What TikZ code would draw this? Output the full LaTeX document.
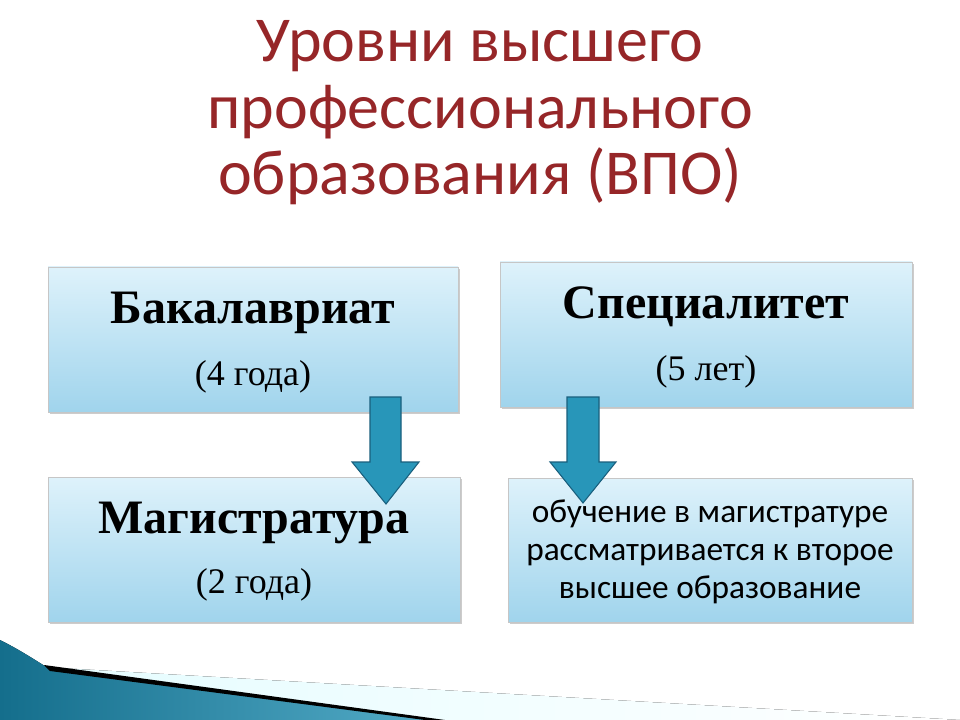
\documentclass[tikz,border=0pt]{standalone}
\usepackage{fontspec}
\setmainfont{Liberation Serif}
\newfontfamily\carl{Carlito}
\usetikzlibrary{shadows}
\definecolor{ttl}{RGB}{150,38,40}
\definecolor{btop}{RGB}{222,242,251}
\definecolor{bbot}{RGB}{160,212,236}
\definecolor{arr}{RGB}{40,150,185}
\definecolor{arrd}{RGB}{25,95,125}
\definecolor{teal}{RGB}{20,110,140}
\tikzset{
 box/.style={draw=gray!45,top color=btop,bottom color=bbot,drop shadow={shadow xshift=1.5pt,shadow yshift=-1.5pt,opacity=0.4},inner sep=0pt},
 bigarrow/.style={fill=arr,draw=arrd,line width=0.8pt,line join=miter}
}
\begin{document}
\begin{tikzpicture}[x=0.75pt,y=-0.75pt]
\useasboundingbox (0,0) rectangle (960,720);
\fill[white] (0,0) rectangle (960,720);
% decoration
\fill[left color=blue!10!cyan!10,right color=white] (60,668) -- (960,720) -- (440,720) -- cycle;
\fill[left color=teal,right color=arr!80] (0,640) .. controls (20,650) and (35,660) .. (48,668) -- (432,720) -- (0,720) -- cycle;
\fill[black] (44,665) -- (445,720) -- (425,720) -- (50,671) -- cycle;
% boxes
\node[box,minimum width=410*0.75pt,minimum height=145*0.75pt] (bak) at (253,339.5) {};
\node[box,minimum width=412*0.75pt,minimum height=145*0.75pt] (spe) at (706,334.5) {};
\node[box,minimum width=412*0.75pt,minimum height=145*0.75pt] (mag) at (254,549.5) {};
\node[box,minimum width=404*0.75pt,minimum height=144*0.75pt] (obu) at (710,550) {};
% texts
\node (t1) at (480,46) {\carl\fontsize{48}{48}\selectfont\color{ttl}Уровни высшего};
\node (t2) at (480,112) {\carl\fontsize{48}{48}\selectfont\color{ttl}профессионального};
\node (t3) at (480,176) {\carl\fontsize{48}{48}\selectfont\color{ttl}образования (ВПО)};
\node (l1) at (253,313) {\fontsize{36}{36}\selectfont\bfseries Бакалавриат};
\node (l2) at (253,377) {\fontsize{27}{27}\selectfont (4 года)};
\node (r1) at (706,307) {\fontsize{36}{36}\selectfont\bfseries Специалитет};
\node (r2) at (706,372) {\fontsize{27}{27}\selectfont (5 лет)};
\node (m1) at (254,523) {\fontsize{36}{36}\selectfont\bfseries Магистратура};
\node (m2) at (254,585) {\fontsize{27}{27}\selectfont (2 года)};
\node[align=center,font=\carl\fontsize{25}{28.5}\selectfont] (o1) at (710,552) {обучение в магистратуре\\рассматривается к второе\\высшее образование};
% arrows
\draw[bigarrow] (370,397) -- (401,397) -- (401,462) -- (419,462) -- (386,504) -- (352,462) -- (370,462) -- cycle;
\draw[bigarrow] (567,397) -- (599,397) -- (599,462) -- (616,462) -- (583,503) -- (550,462) -- (567,462) -- cycle;
\end{tikzpicture}
\end{document}
